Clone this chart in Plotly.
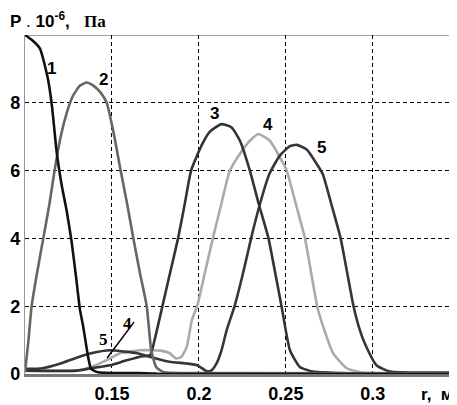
import plotly.graph_objects as go

# ---- data ----
x1 = [0.1, 0.104, 0.1086, 0.1132, 0.1155, 0.1182, 0.121, 0.124, 0.1268, 0.1295, 0.1316, 0.1334, 0.1363, 0.138, 0.142, 0.15, 0.16, 0.17, 0.175, 0.18, 0.35]
y1 = [10, 9.85, 9.6, 8.7, 7.9, 6.55, 5.6, 4.8, 3.9, 2.8, 1.9, 1.42, 0.5, 0.15, 0.05, 0.03, 0.03, 0.02, 0.01, 0.0, 0.0]

x2 = [0.1, 0.102, 0.1038, 0.107, 0.1105, 0.114, 0.117, 0.1205, 0.124, 0.1275, 0.1315, 0.1355, 0.1395, 0.1435, 0.147, 0.151, 0.155, 0.1588, 0.1623, 0.166, 0.17, 0.1726, 0.1755, 0.18, 0.2, 0.35]
y2 = [0.05, 1.0, 2.0, 3.0, 4.0, 5.0, 6.0, 7.0, 7.7, 8.2, 8.5, 8.6, 8.5, 8.3, 8.0, 7.1, 6.0, 5.0, 4.0, 3.0, 2.0, 0.7, 0.2, 0.05, 0.03, 0.02]

x3 = [0.1, 0.13, 0.138, 0.149, 0.157, 0.166, 0.172, 0.1745, 0.179, 0.1835, 0.188, 0.1918, 0.1955, 0.2016, 0.2063, 0.213, 0.2188, 0.2236, 0.2293, 0.2345, 0.24, 0.2438, 0.2475, 0.2523, 0.258, 0.2655, 0.28, 0.35]
y3 = [0.1, 0.1, 0.17, 0.26, 0.38, 0.51, 0.56, 1.0, 2.0, 3.0, 4.0, 5.0, 6.0, 6.75, 7.15, 7.37, 7.27, 6.88, 6.0, 5.0, 4.0, 3.0, 2.0, 0.71, 0.21, 0.07, 0.03, 0.02]

x4 = [0.1, 0.13, 0.138, 0.147, 0.155, 0.166, 0.178, 0.183, 0.187, 0.19, 0.193, 0.196, 0.199, 0.2035, 0.208, 0.2128, 0.2178, 0.2236, 0.2293, 0.2341, 0.2408, 0.2466, 0.2505, 0.2558, 0.261, 0.2645, 0.268, 0.2715, 0.2772, 0.285, 0.293, 0.35]
y4 = [0.1, 0.1, 0.21, 0.41, 0.62, 0.7, 0.69, 0.62, 0.46, 0.51, 0.8, 1.6, 2.0, 3.0, 4.0, 5.0, 6.0, 6.5, 6.88, 7.08, 6.88, 6.39, 6.0, 5.0, 4.0, 3.0, 2.0, 1.39, 0.61, 0.17, 0.05, 0.03]

x5 = [0.1, 0.11, 0.1205, 0.1285, 0.138, 0.149, 0.157, 0.164, 0.172, 0.183, 0.193, 0.199, 0.2046, 0.207, 0.21, 0.213, 0.216, 0.2205, 0.2255, 0.23, 0.235, 0.2405, 0.2466, 0.2523, 0.2562, 0.262, 0.2677, 0.2712, 0.2762, 0.2815, 0.2852, 0.2889, 0.2925, 0.2954, 0.3021, 0.31, 0.35]
y5 = [0.15, 0.17, 0.31, 0.46, 0.61, 0.7, 0.66, 0.62, 0.5, 0.36, 0.31, 0.26, 0.08, 0.1, 0.3, 0.7, 1.3, 2.0, 3.0, 4.0, 5.0, 5.9, 6.45, 6.72, 6.76, 6.62, 6.2, 5.9, 5.0, 4.0, 3.0, 2.0, 1.3, 0.9, 0.26, 0.07, 0.05]

curve_names = ["1", "2", "3", "4", "5"]
curve_colors = ["#111111", "#666666", "#333333", "#aaaaaa", "#363636"]

x_ticks = [0.15, 0.2, 0.25, 0.3]
x_ticktext = ["0.15", "0.2", "0.25", "0.3"]
y_ticks = [0, 2, 4, 6, 8]

# curve label positions (data coords)
label_x = [0.1153, 0.145, 0.2092, 0.2400, 0.2707]
label_y = [9.0, 8.7, 7.67, 7.37, 6.69]

FONT = "Arial, Liberation Sans, sans-serif"
SERIF = "Times New Roman, Liberation Serif, serif"

fig = go.Figure()
xs = [x1, x2, x3, x4, x5]
ys = [y1, y2, y3, y4, y5]
for i in [3, 4, 2, 1, 0]:
    fig.add_trace(go.Scatter(x=xs[i], y=ys[i], mode="lines", name=curve_names[i],
                             line=dict(color=curve_colors[i], width=2.6, shape="spline", smoothing=0.5),
                             showlegend=False))

for i in range(5):
    fig.add_annotation(x=label_x[i], y=label_y[i], text="<b>%s</b>" % curve_names[i],
                       showarrow=False, font=dict(family=FONT, size=17, color="#000"))

fig.add_annotation(x=0.1449, y=1.03, text="<b>5</b>", showarrow=False,
                   font=dict(family=SERIF, size=17, color="#000"))
fig.add_annotation(x=0.1590, y=1.50, text="<b>4</b>", showarrow=False,
                   font=dict(family=SERIF, size=17, color="#000"))
fig.add_shape(type="line", x0=0.1627, y0=1.53, x1=0.1472, y1=0.47,
              line=dict(color="#000", width=1.5))

fig.add_shape(type="line", xref="paper", x0=0, x1=1, yref="y", y0=10, y1=10,
              line=dict(color="#444", width=1.2), layer="below")

fig.add_annotation(xref="paper", yref="paper", x=-0.040, y=1.043, xanchor="left", yanchor="middle",
                   text="<b>P</b> . <b>10<sup>-6</sup>,</b>   <span style='font-family:Times New Roman, Liberation Serif, serif'><b>Па</b></span>",
                   showarrow=False, font=dict(family=FONT, size=17, color="#000"))
fig.add_annotation(xref="paper", yref="paper", x=0.995, y=-0.059, xanchor="right", yanchor="middle",
                   text="<b>r,  м</b>", showarrow=False, font=dict(family=FONT, size=17, color="#000"))

# the page body adds an 8px margin, so the figure is drawn 8px smaller
fig.update_layout(
    width=449, height=397,
    margin=dict(l=17, r=0, t=27, b=31, autoexpand=False),
    paper_bgcolor="white", plot_bgcolor="white",
    xaxis=dict(range=[0.1, 0.3484], tickvals=x_ticks, ticktext=x_ticktext, automargin=False,
               showgrid=True, gridcolor="#000", gridwidth=1, griddash="4px,3px",
               zeroline=False, showline=True, linecolor="#777", linewidth=2.5,
               ticks="", ticklabelstandoff=2,
               tickfont=dict(family=FONT, size=18, color="#000", weight="bold")),
    yaxis=dict(range=[0, 10], tickvals=y_ticks, automargin=False,
               showgrid=True, gridcolor="#000", gridwidth=1, griddash="4px,3px",
               zeroline=False, showline=True, linecolor="#999", linewidth=1.2,
               ticks="", ticklabelstandoff=0,
               tickfont=dict(family=FONT, size=18, color="#000", weight="bold")),
)

fig.write_html("out.html")
